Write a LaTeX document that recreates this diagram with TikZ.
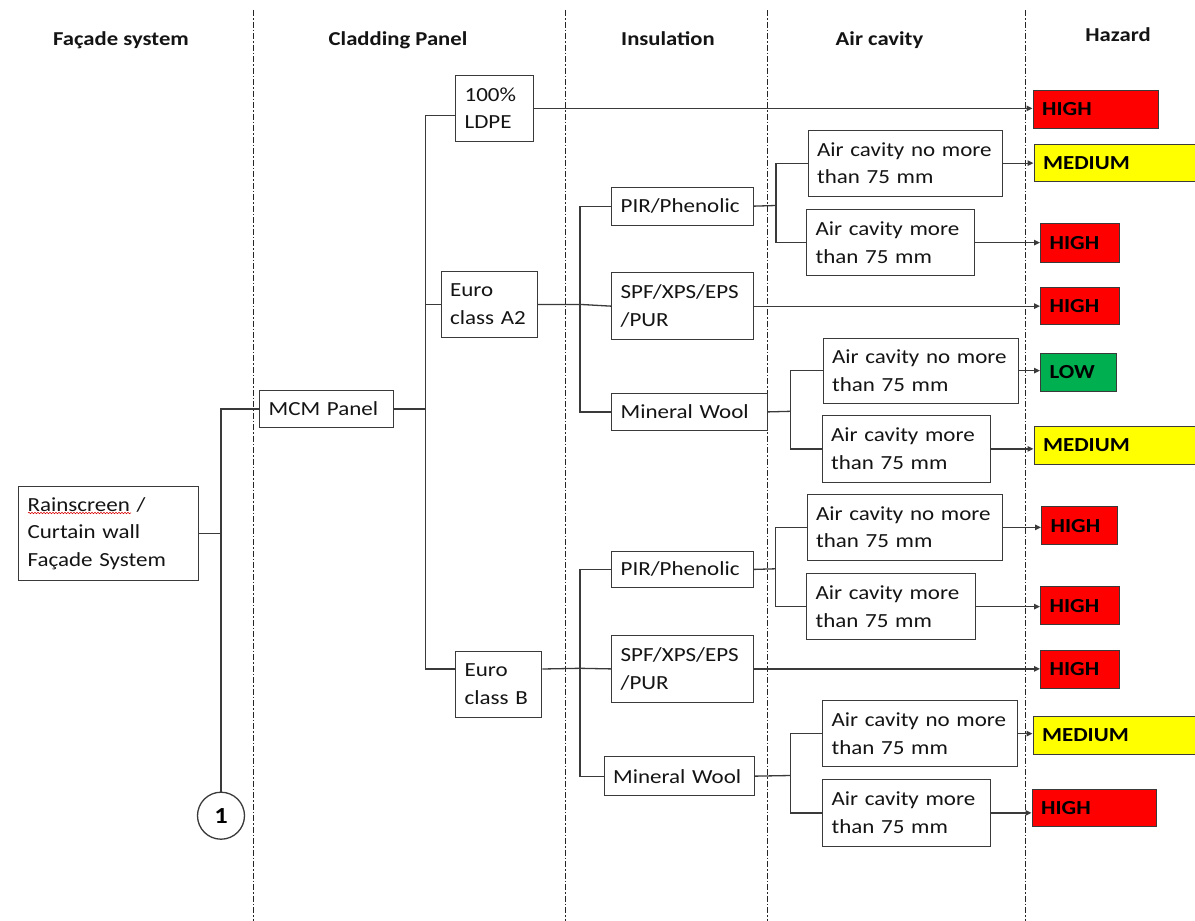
\documentclass[tikz,border=0pt]{standalone}
\usepackage{fontspec}
\setmainfont{Carlito}[FakeStretch=1.15]
\usetikzlibrary{arrows.meta,decorations.pathmorphing}

\definecolor{edge}{HTML}{3A3A3A}
\definecolor{hzred}{HTML}{FF0000}
\definecolor{hzyellow}{HTML}{FFFF00}
\definecolor{hzgreen}{HTML}{00B050}

\tikzset{
  box/.style={draw=edge, line width=1.3pt, fill=white, inner xsep=9pt, inner ysep=0pt,
    align=left, anchor=north west, font=\fontsize{20}{27.5}\selectfont, text=black!92},
  hazard/.style={draw=edge, line width=1.3pt, inner xsep=9pt, inner ysep=0pt,
    align=left, anchor=north west, font=\bfseries\fontsize{19.9}{24}\selectfont},
  head/.style={font=\bfseries\fontsize{19.7}{24}\selectfont, anchor=base, text=black!92},
  conn/.style={draw=edge, line width=1.3pt},
  arr/.style={conn, -{Triangle[length=6pt,width=5.5pt]}},
  divider/.style={draw=black!85, line width=0.9pt, dash pattern=on 6pt off 2pt on 1.5pt off 2pt},
}

% text box from its top-left (x1,y1) to bottom-right (x2,y2);
% each line of text is kept whole
\newcommand\fbx[6]{%
  \pgfmathsetmacro\bxw{#4-#2-18}\pgfmathsetmacro\bxh{#5-#3}%
  \node[box, text width=\bxw pt, minimum height=\bxh pt] (#1) at (#2,#3) {#6};}
% coloured hazard label, same corner convention
\newcommand\hzd[7]{%
  \pgfmathsetmacro\bxw{#4-#2-18}\pgfmathsetmacro\bxh{#5-#3}%
  \node[hazard, fill=#6, text width=\bxw pt, minimum height=\bxh pt] (#1) at (#2,#3) {#7};}

\begin{document}
\begin{tikzpicture}[x=1pt, y=-1pt]
\fill[white] (0,0) rectangle (1195,921);
\useasboundingbox (0,0) rectangle (1195,921);

% column dividers
\foreach \xx in {253,565,767.5,1025}
  \draw[divider] (\xx,10) -- (\xx,921);

% column headings
\node[head] (hfac) at (121,45) {Façade system};
\node[head] (hcla) at (398,45) {Cladding Panel};
\node[head] (hins) at (668,45) {Insulation};
\node[head] (hair) at (879.5,45) {Air cavity};
\node[head] (hhaz) at (1118,41.5) {Hazard};

% facade system
\fbx{rain}{18}{486}{198}{580}{Rainscreen /\\Curtain wall\\Façade System}
\draw[red!85!black, line width=0.6pt, decorate,
  decoration={snake, amplitude=0.7pt, segment length=3pt}] (28,513) -- (131,513);
\node[draw=edge, line width=1.3pt, circle, minimum size=47pt, inner sep=0pt,
  font=\bfseries\fontsize{23}{23}\selectfont] (one) at (221,815.7) {1};

% cladding panels
\fbx{mcm}{259}{389.5}{392.5}{427}{MCM Panel}
\fbx{ldpe}{455}{74.5}{533}{141}{100\%\\LDPE}
\fbx{eua}{440.5}{270.5}{536.5}{337}{Euro\\class A2}
\fbx{eub}{455}{650.5}{541}{717}{Euro\\class B}

% insulation
\fbx{pira}{611}{186.5}{752.5}{224.5}{PIR/Phenolic}
\fbx{spfa}{611}{272}{752.5}{339}{SPF/XPS/EPS\\/PUR}
\fbx{mwa}{611}{392.5}{766.5}{430}{Mineral Wool}
\fbx{pirb}{611}{550.5}{752.5}{587}{PIR/Phenolic}
\fbx{spfb}{611}{635}{752.5}{701.5}{SPF/XPS/EPS\\/PUR}
\fbx{mwb}{603.5}{756}{753.5}{795}{Mineral Wool}

% air cavity
\fbx{aca}{807.5}{129.5}{1002}{195.5}{Air cavity no more\\than 75 mm}
\fbx{acb}{806}{209}{974}{275}{Air cavity more\\than 75 mm}
\fbx{acc}{822.5}{337.5}{1018}{402.5}{Air cavity no more\\than 75 mm}
\fbx{acd}{821.5}{415}{989.5}{481.5}{Air cavity more\\than 75 mm}
\fbx{ace}{806.5}{493.5}{1001.5}{560}{Air cavity no more\\than 75 mm}
\fbx{acf}{806}{573}{974.5}{639}{Air cavity more\\than 75 mm}
\fbx{acg}{822}{700}{1017}{766}{Air cavity no more\\than 75 mm}
\fbx{ach}{822}{779}{990}{845.5}{Air cavity more\\than 75 mm}

% hazard ratings
\hzd{hza}{1032.5}{89.5}{1157.5}{127.5}{hzred}{HIGH}
\hzd{hzb}{1033.5}{144}{1200}{181}{hzyellow}{MEDIUM}
\hzd{hzc}{1040}{223}{1118.5}{261.5}{hzred}{HIGH}
\hzd{hzd}{1040}{287}{1118.5}{324}{hzred}{HIGH}
\hzd{hze}{1040}{352.5}{1116}{390.5}{hzgreen}{LOW}
\hzd{hzf}{1033.5}{425.5}{1200}{463.5}{hzyellow}{MEDIUM}
\hzd{hzg}{1041}{506}{1116.5}{544}{hzred}{HIGH}
\hzd{hzh}{1040}{586}{1119}{624}{hzred}{HIGH}
\hzd{hzi}{1040}{649.5}{1118.5}{688}{hzred}{HIGH}
\hzd{hzj}{1032.5}{716}{1200}{753.5}{hzyellow}{MEDIUM}
\hzd{hzk}{1031.5}{788.5}{1156}{826}{hzred}{HIGH}

% junctions of the branching lines
\coordinate (jc) at ([xshift=32pt]mcm.east);
\coordinate (ja) at (580,305.5);
\coordinate (jb) at (580,668.3);
\coordinate (jpa) at (776,205.5);
\coordinate (jma) at (790.7,411.3);
\coordinate (jpb) at (775.5,568.8);
\coordinate (jmb) at (790.7,775.5);

% facade system to panel
\draw[conn] (rain.east) -- (rain.east -| one.north);
\draw[conn] (mcm.west) -| (one.north);

% panel to cladding classes
\draw[conn] (mcm.east) -- (jc);
\draw[conn] (jc) |- ([yshift=-7pt]ldpe.west);
\draw[conn] (jc) |- (eua.west);
\draw[conn] (jc) |- ([yshift=15.4pt]eub.west);

% cladding classes to insulation
\draw[conn] (eua.east) -- (eua.east -| ja) -- (spfa.west);
\draw[conn] (ja) |- (pira.west);
\draw[conn] (ja) |- (mwa.west);
\draw[conn] ([yshift=15.4pt]eub.east) -- (jb) -- (spfb.west);
\draw[conn] (jb) |- (pirb.west);
\draw[conn] (jb) |- (mwb.west);

% insulation to air cavity
\draw[conn] (pira.east) -- (jpa);
\draw[conn] (jpa) |- (aca.west);
\draw[conn] (jpa) |- (acb.west);
\draw[conn] (mwa.east) -- (jma);
\draw[conn] (jma) |- (acc.west);
\draw[conn] (jma) |- (acd.west);
\draw[conn] (pirb.east) -- (jpb);
\draw[conn] (jpb) |- (ace.west);
\draw[conn] (jpb) |- (acf.west);
\draw[conn] (mwb.east) -- (jmb);
\draw[conn] (jmb) |- (acg.west);
\draw[conn] (jmb) |- (ach.west);

% ratings
\draw[arr] (ldpe.east) -- (ldpe.east -| hza.west);
\draw[arr] (aca.east) -- (aca.east -| hzb.west);
\draw[arr] (acb.east) -- (acb.east -| hzc.west);
\draw[arr] (spfa.east) -- (spfa.east -| hzd.west);
\draw[arr] (acc.east) -- (acc.east -| hze.west);
\draw[arr] (acd.east) -- (acd.east -| hzf.west);
\draw[arr] (ace.east) -- (ace.east -| hzg.west);
\draw[arr] (acf.east) -- (acf.east -| hzh.west);
\draw[arr] (spfb.east) -- (spfb.east -| hzi.west);
\draw[arr] (acg.east) -- (acg.east -| hzj.west);
\draw[arr] (ach.east) -- (ach.east -| hzk.west);
\end{tikzpicture}
\end{document}
